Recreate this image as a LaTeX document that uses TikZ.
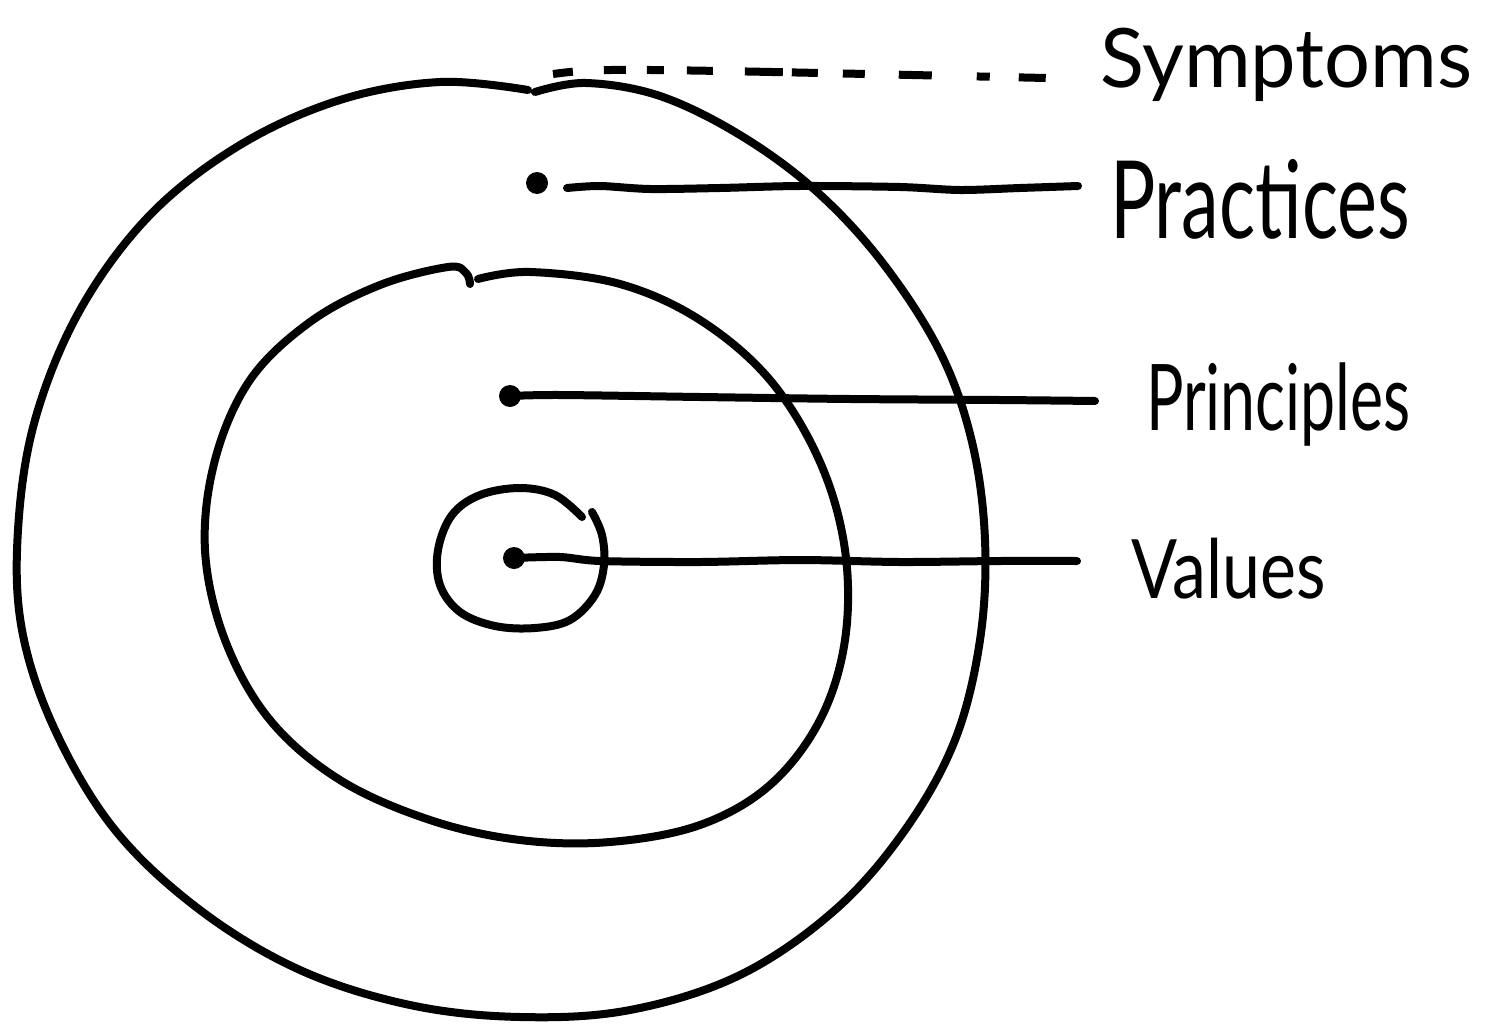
\documentclass[tikz,border=0pt]{standalone}
\usepackage{fontspec}
\setmainfont{Lato}
\begin{document}
\begin{tikzpicture}[x=1pt,y=-1pt,
  stroke/.style={line width=8pt,line cap=round,line join=round},
  dot/.style={circle,fill=black,inner sep=0pt,minimum size=22pt},
  lbl/.style={anchor=base west,inner sep=0pt,transform shape}]
\useasboundingbox (0,0) rectangle (1488,1025);
% outer circle
\draw[stroke] plot[smooth,tension=0.6] coordinates {(535,92) (586,83) (660,96) (740,135) (815,190) (882,262) (940,352) (972,442) (985,540) (980,640) (955,740) (905,830) (835,910) (740,975) (630,1010) (520,1017) (410,1005) (300,970) (200,910) (115,830) (55,730) (22,630) (18,530) (35,420) (80,310) (150,215) (240,145) (340,100) (440,82) (528,90)};
% middle circle
\draw[stroke] plot[smooth,tension=0.6] coordinates {(478,279) (530,272) (620,284) (700,320) (770,380) (820,462) (845,550) (845,640) (820,720) (770,785) (700,825) (610,842) (520,840) (430,820) (340,780) (270,720) (225,640) (205,550) (215,460) (250,380) (310,322) (380,285) (448,267) (466,273) (470,284)};
% inner circle
\draw[stroke] plot[smooth,tension=0.6] coordinates {(592,512) (602,535) (604,565) (595,595) (570,620) (535,628) (495,626) (460,612) (440,585) (438,550) (452,515) (480,495) (520,488) (555,495) (582,517)};
% dots
\node[dot] (dprac) at (537,183) {};
\node[dot] (dprin) at (510,396) {};
\node[dot] (dval) at (514,558) {};
% labels
\node[lbl,xscale=0.99,font=\fontsize{82}{98}\selectfont] (lsym) at (1100,88) {Symptoms};
\node[lbl,xscale=0.70,font=\fontsize{108}{130}\selectfont] (lprac) at (1110,238) {Practices};
\node[lbl,xscale=0.68,font=\fontsize{92}{110}\selectfont] (lprin) at (1146,430) {Principles};
\node[lbl,xscale=0.83,font=\fontsize{82}{98}\selectfont] (lval) at (1131,598) {Values};
% connector ends
\coordinate (sstart) at (553,74);
\coordinate (send) at (1046,78);
\coordinate (pstart) at (567,188);
\coordinate (pend) at (1078,186);
\coordinate (qend) at (1095,401);
\coordinate (vend) at (1077,561);
% connectors
\draw[stroke,line cap=butt,dash pattern=on 20pt off 31pt on 22pt off 21pt on 17pt off 23pt on 26pt off 32pt on 38pt off 9pt on 26pt off 25pt on 22pt off 34pt on 33pt off 45pt on 13pt off 29pt on 27pt off 100pt] (sstart) .. controls (600,68) .. (send);
\draw[stroke] plot[smooth,tension=0.5] coordinates {(pstart) (600,186) (650,189) (720,188) (800,186) (900,187) (960,190) (1020,188) (pend)};
\draw[stroke] plot[smooth,tension=0.5] coordinates {(dprin.center) (560,395) (700,397) (850,399) (1000,400) (qend)};
\draw[stroke] plot[smooth,tension=0.5] coordinates {(dval.center) (560,557) (600,561) (700,562) (800,560) (900,562) (1000,561) (vend)};
\end{tikzpicture}
\end{document}
